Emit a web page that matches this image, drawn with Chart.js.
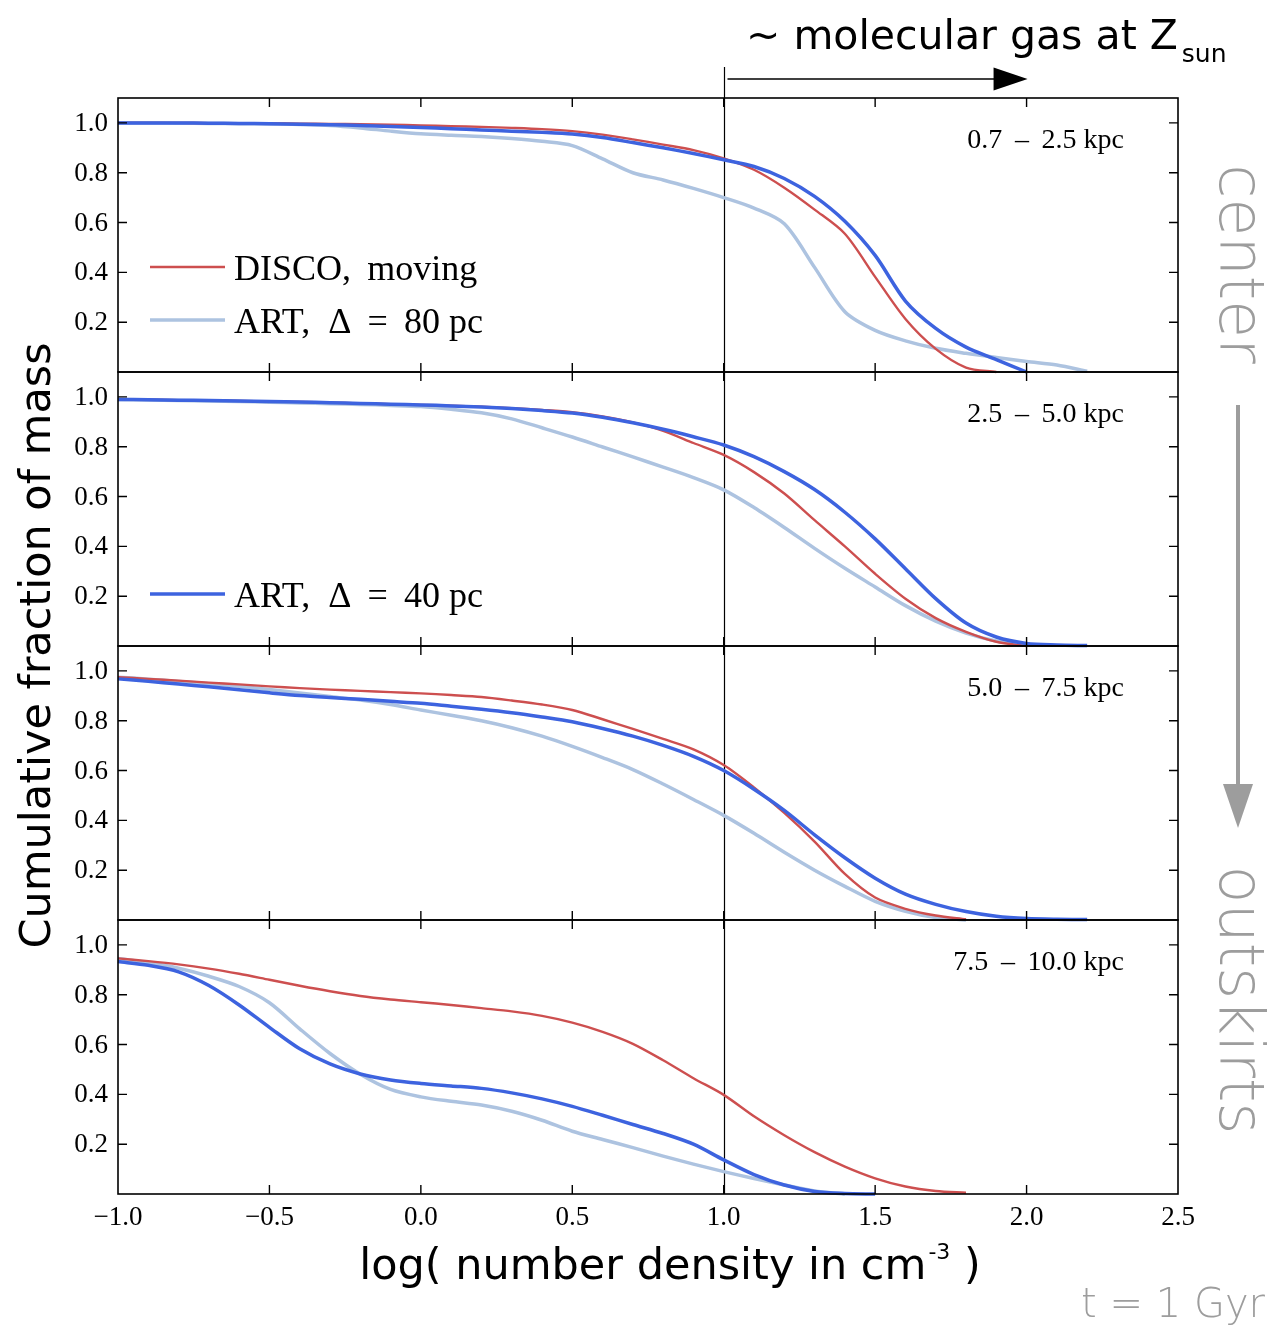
<!DOCTYPE html>
<html>
<head>
<meta charset="utf-8">
<title>Cumulative fraction of mass</title>
<script src="https://cdn.jsdelivr.net/npm/chart.js@4.4.1/dist/chart.umd.min.js"></script>
<style>
  html, body { margin: 0; padding: 0; background: #fff; }
  #wrap { position: relative; width: 1276px; height: 1330px; overflow: hidden; }
  #wrap canvas { position: absolute; left: 0; }
  .txt { position: absolute; white-space: nowrap; font-family: "DejaVu Sans", sans-serif; line-height: 1; color: #000; z-index: 2; }
  .grey { color: #9d9d9d; font-weight: 300; }
</style>
</head>
<body>
<div id="wrap">
  <div class="txt" style="left:746px;top:15px;font-size:41px;">~ molecular gas at Z<span style="font-size:25px;position:relative;top:13px;margin-left:4px;">sun</span></div>
  <div class="txt" style="left:-315px;top:624px;width:700px;text-align:center;font-size:43px;transform:rotate(-90deg);">Cumulative fraction of mass</div>
  <div class="txt" style="left:270px;top:1243px;width:800px;text-align:center;font-size:43px;">log( number density in cm<span style="font-size:22px;position:relative;top:-20px;margin-left:2px;">-3</span> )</div>
  <div class="txt grey" style="left:1069px;top:1283px;width:196px;text-align:right;font-size:40px;">t = 1 Gyr</div>
  <div class="txt grey" style="left:1041px;top:233px;width:400px;text-align:center;font-size:62px;transform:rotate(90deg);">center</div>
  <div class="txt grey" style="left:1041px;top:969px;width:400px;text-align:center;font-size:62px;transform:rotate(90deg);">outskirts</div>
  <svg style="position:absolute;left:0;top:0;z-index:1" width="1276" height="1330">
    <line x1="1238" y1="405" x2="1238" y2="790" stroke="#9d9d9d" stroke-width="4"/>
    <polygon points="1223,784 1253,784 1238,828" fill="#9d9d9d"/>
  </svg>
</div>
<script>
// log density grid the curves were read on (-1.0 ... 2.2, step 0.1)
const densityGrid = [-1.0, -0.9, -0.8, -0.7, -0.6, -0.5, -0.4, -0.3, -0.2, -0.1, 0.0, 0.1, 0.2, 0.3, 0.4, 0.5, 0.6, 0.7, 0.8, 0.9, 1.0, 1.1, 1.2, 1.3, 1.4, 1.5, 1.6, 1.7, 1.8, 1.9, 2.0, 2.1, 2.2];
const xTickValues = [-1.0, -0.5, 0.0, 0.5, 1.0, 1.5, 2.0, 2.5];
const yTickValues = [0.2, 0.4, 0.6, 0.8, 1.0];
const ringLabels = ['0.7 \u2009\u2013\u2009 2.5 kpc', '2.5 \u2009\u2013\u2009 5.0 kpc', '5.0 \u2009\u2013\u2009 7.5 kpc', '7.5 \u2009\u2013\u2009 10.0 kpc'];
const seriesNames = ['DISCO,\u2009 moving', 'ART,  \u0394\u2009 = \u200980 pc', 'ART,  \u0394\u2009 = \u200940 pc'];
const seriesColors = ['#cd4f4f', '#adc3e0', '#3d63df'];

// 0.7 - 2.5 kpc
const discoRing1 = [1.000, 1.000, 1.000, 0.999, 0.999, 0.998, 0.997, 0.996, 0.995, 0.993, 0.990, 0.987, 0.984, 0.980, 0.975, 0.967, 0.953, 0.934, 0.913, 0.891, 0.858, 0.812, 0.740, 0.652, 0.555, 0.382, 0.213, 0.093, 0.018, 0.000, null, null, null];
const art80Ring1 = [1.000, 1.000, 0.999, 0.998, 0.997, 0.996, 0.994, 0.990, 0.980, 0.967, 0.956, 0.950, 0.945, 0.937, 0.926, 0.909, 0.856, 0.800, 0.771, 0.737, 0.700, 0.658, 0.595, 0.420, 0.242, 0.167, 0.125, 0.095, 0.075, 0.058, 0.042, 0.028, 0.003];
const art40Ring1 = [1.000, 1.000, 1.000, 0.999, 0.998, 0.997, 0.995, 0.993, 0.990, 0.986, 0.982, 0.977, 0.972, 0.967, 0.962, 0.955, 0.941, 0.921, 0.900, 0.877, 0.852, 0.825, 0.777, 0.705, 0.605, 0.468, 0.285, 0.175, 0.100, 0.050, 0.000, null, null];

// 2.5 - 5.0 kpc
const discoRing2 = [0.990, 0.989, 0.987, 0.986, 0.984, 0.982, 0.980, 0.977, 0.974, 0.971, 0.968, 0.965, 0.961, 0.955, 0.948, 0.939, 0.922, 0.898, 0.864, 0.815, 0.767, 0.698, 0.612, 0.505, 0.400, 0.290, 0.190, 0.112, 0.057, 0.017, 0.000, null, null];
const art80Ring2 = [0.990, 0.988, 0.986, 0.984, 0.982, 0.979, 0.976, 0.973, 0.970, 0.966, 0.961, 0.950, 0.936, 0.912, 0.876, 0.839, 0.799, 0.759, 0.718, 0.676, 0.627, 0.556, 0.476, 0.392, 0.312, 0.237, 0.162, 0.100, 0.052, 0.020, 0.004, null, null];
const art40Ring2 = [0.990, 0.989, 0.987, 0.986, 0.984, 0.982, 0.980, 0.977, 0.974, 0.971, 0.968, 0.964, 0.959, 0.953, 0.945, 0.935, 0.918, 0.896, 0.870, 0.840, 0.807, 0.760, 0.700, 0.628, 0.537, 0.430, 0.310, 0.190, 0.092, 0.036, 0.010, 0.004, 0.002];

// 5.0 - 7.5 kpc
const discoRing3 = [0.975, 0.968, 0.961, 0.953, 0.946, 0.938, 0.931, 0.925, 0.920, 0.915, 0.910, 0.903, 0.895, 0.881, 0.865, 0.843, 0.806, 0.767, 0.727, 0.685, 0.622, 0.532, 0.430, 0.315, 0.185, 0.090, 0.045, 0.018, 0.003, null, null, null, null];
const art80Ring3 = [0.975, 0.967, 0.958, 0.948, 0.938, 0.925, 0.911, 0.897, 0.883, 0.865, 0.843, 0.822, 0.800, 0.772, 0.738, 0.697, 0.652, 0.604, 0.546, 0.484, 0.420, 0.348, 0.272, 0.200, 0.135, 0.075, 0.035, 0.010, 0.000, null, null, null, null];
const art40Ring3 = [0.968, 0.958, 0.947, 0.936, 0.924, 0.912, 0.901, 0.893, 0.886, 0.878, 0.870, 0.858, 0.846, 0.832, 0.815, 0.796, 0.769, 0.738, 0.701, 0.657, 0.600, 0.525, 0.440, 0.342, 0.250, 0.168, 0.104, 0.063, 0.034, 0.015, 0.006, 0.003, 0.002];

// 7.5 - 10.0 kpc
const discoRing4 = [0.946, 0.935, 0.922, 0.905, 0.884, 0.860, 0.836, 0.814, 0.795, 0.781, 0.770, 0.759, 0.746, 0.733, 0.715, 0.688, 0.651, 0.603, 0.537, 0.465, 0.398, 0.312, 0.236, 0.168, 0.110, 0.063, 0.030, 0.012, 0.005, null, null, null, null];
const art80Ring4 = [0.946, 0.929, 0.906, 0.874, 0.833, 0.768, 0.663, 0.564, 0.481, 0.420, 0.390, 0.372, 0.357, 0.332, 0.296, 0.252, 0.219, 0.186, 0.152, 0.120, 0.090, 0.062, 0.036, 0.012, 0.000, null, null, null, null, null, null, null, null];
const art40Ring4 = [0.933, 0.918, 0.892, 0.837, 0.759, 0.669, 0.583, 0.522, 0.482, 0.458, 0.444, 0.434, 0.424, 0.406, 0.382, 0.352, 0.316, 0.279, 0.243, 0.200, 0.137, 0.078, 0.036, 0.010, 0.002, 0.000, null, null, null, null, null, null, null];

const rings = [
  { disco: discoRing1, art80: art80Ring1, art40: art40Ring1, legend: [[0, 0], [1, 1]] },
  { disco: discoRing2, art80: art80Ring2, art40: art40Ring2, legend: [[2, 1]] },
  { disco: discoRing3, art80: art80Ring3, art40: art40Ring3, legend: [] },
  { disco: discoRing4, art80: art80Ring4, art40: art40Ring4, legend: [] }
];

const SERIF = '"Liberation Serif", "DejaVu Serif", serif';
const PANEL_H = 274;
const FIRST_TOP = 98;

function toPoints(ys) {
  return densityGrid.map((x, i) => ({ x: x, y: ys[i] })).filter(p => p.y !== null);
}

function fmtTick(v) {
  return (v < 0 ? '\u2212' : '') + Math.abs(v).toFixed(1);
}

const panelDecor = {
  id: 'panelDecor',
  beforeDatasetsDraw(chart, args, opts) {
    const { ctx, chartArea: a, scales: { x } } = chart;
    const px = Math.round(x.getPixelForValue(1.0)) + 0.5;
    ctx.save();
    ctx.strokeStyle = '#000';
    ctx.lineWidth = 1.2;
    ctx.beginPath();
    ctx.moveTo(px, opts.first ? 67 : a.top);
    ctx.lineTo(px, a.bottom);
    ctx.stroke();
    if (opts.first) {
      // arrow toward higher densities
      const tip = x.getPixelForValue(2.0) + 1;
      ctx.lineWidth = 1.5;
      ctx.beginPath();
      ctx.moveTo(px + 3, 79);
      ctx.lineTo(tip - 30, 79);
      ctx.stroke();
      ctx.fillStyle = '#000';
      ctx.beginPath();
      ctx.moveTo(tip - 34, 67.5);
      ctx.lineTo(tip, 79);
      ctx.lineTo(tip - 34, 90.5);
      ctx.closePath();
      ctx.fill();
    }
    ctx.restore();
  },
  afterDatasetsDraw(chart, args, opts) {
    const { ctx, chartArea: a, scales: { x, y } } = chart;
    ctx.save();
    ctx.strokeStyle = '#000';
    ctx.lineWidth = 1.6;
    ctx.strokeRect(a.left, a.top, a.right - a.left, a.bottom - a.top);

    // inward ticks on all four sides
    ctx.lineWidth = 1.4;
    ctx.beginPath();
    xTickValues.forEach(v => {
      const p = x.getPixelForValue(v);
      if (p <= a.left + 1 || p >= a.right - 1) return;
      ctx.moveTo(p, a.top); ctx.lineTo(p, a.top + 9);
      ctx.moveTo(p, a.bottom); ctx.lineTo(p, a.bottom - 9);
    });
    yTickValues.forEach(v => {
      const p = y.getPixelForValue(v);
      ctx.moveTo(a.left, p); ctx.lineTo(a.left + 9, p);
      ctx.moveTo(a.right, p); ctx.lineTo(a.right - 9, p);
    });
    ctx.stroke();

    ctx.fillStyle = '#000';
    ctx.font = '27px ' + SERIF;
    ctx.textAlign = 'right';
    ctx.textBaseline = 'middle';
    yTickValues.forEach(v => {
      ctx.fillText(v.toFixed(1), a.left - 10, y.getPixelForValue(v) + 1);
    });

    if (opts.last) {
      ctx.textAlign = 'center';
      ctx.textBaseline = 'alphabetic';
      xTickValues.forEach(v => {
        ctx.fillText(fmtTick(v), x.getPixelForValue(v), a.bottom + 31);
      });
    }

    // radial bin label
    ctx.font = '28px ' + SERIF;
    ctx.textAlign = 'right';
    ctx.textBaseline = 'alphabetic';
    ctx.fillText(opts.ring, 1124, a.top + 50);

    // legend entries drawn from the datasets
    ctx.font = '36px ' + SERIF;
    ctx.textAlign = 'left';
    opts.legend.forEach(([si, row]) => {
      const ds = chart.data.datasets.find(d => d.label === seriesNames[si]);
      const ly = a.top + 169 + row * 53;
      ctx.strokeStyle = ds.borderColor;
      ctx.lineWidth = ds.borderWidth;
      ctx.beginPath();
      ctx.moveTo(150, ly); ctx.lineTo(225, ly);
      ctx.stroke();
      ctx.fillText(ds.label, 234, ly + 13);
    });
    ctx.restore();
  }
};

const wrap = document.getElementById('wrap');

rings.forEach((r, i) => {
  const first = i === 0;
  const last = i === rings.length - 1;
  const padTop = first ? FIRST_TOP : 8;
  const padBottom = last ? 50 : 8;
  const h = padTop + PANEL_H + padBottom;
  const top = FIRST_TOP + i * PANEL_H - padTop;

  const cv = document.createElement('canvas');
  cv.width = 1276;
  cv.height = h;
  cv.style.top = top + 'px';
  cv.style.width = '1276px';
  cv.style.height = h + 'px';
  wrap.appendChild(cv);

  new Chart(cv, {
    type: 'line',
    data: {
      datasets: [
        { label: seriesNames[2], data: toPoints(r.art40), borderColor: seriesColors[2], borderWidth: 3.5, order: 0, clip: false },
        { label: seriesNames[0], data: toPoints(r.disco), borderColor: seriesColors[0], borderWidth: 2.4, order: 1, clip: false },
        { label: seriesNames[1], data: toPoints(r.art80), borderColor: seriesColors[1], borderWidth: 3.5, order: 2, clip: false }
      ]
    },
    options: {
      responsive: false,
      animation: false,
      devicePixelRatio: 1,
      layout: { padding: { left: 118, right: 98, top: padTop, bottom: padBottom } },
      elements: {
        point: { radius: 0 },
        line: { tension: 0.3, fill: false }
      },
      scales: {
        x: { type: 'linear', min: -1, max: 2.5, display: false },
        y: { type: 'linear', min: 0, max: 1.1, display: false }
      },
      plugins: {
        legend: { display: false },
        tooltip: { enabled: false },
        panelDecor: { first: first, last: last, ring: ringLabels[i], legend: r.legend }
      }
    },
    plugins: [panelDecor]
  });
});
</script>
</body>
</html>
